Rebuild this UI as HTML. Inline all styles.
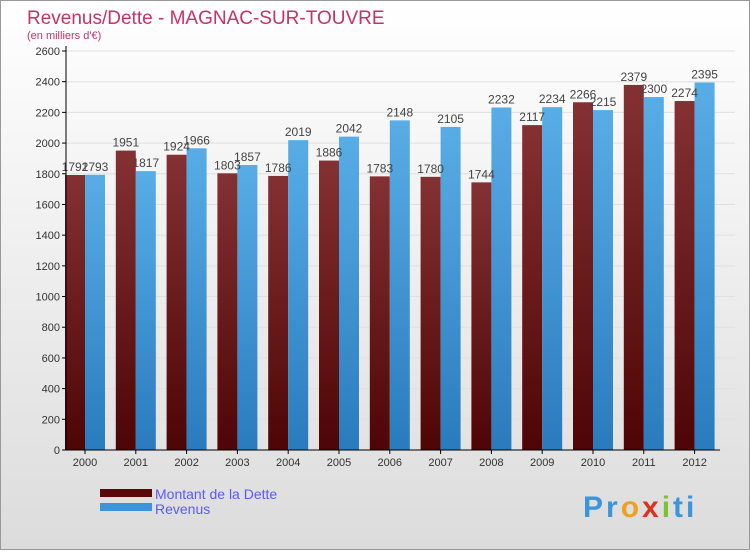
<!DOCTYPE html>
<html><head><meta charset="utf-8"><style>
body{margin:0;width:750px;height:550px;overflow:hidden;font-family:"Liberation Sans",sans-serif}
</style></head><body>
<svg id="c" width="750" height="550" xmlns="http://www.w3.org/2000/svg">
<defs>
<linearGradient id="bg" x1="0" y1="0" x2="0" y2="1"><stop offset="0" stop-color="#ffffff"/><stop offset="1" stop-color="#dcdcdc"/></linearGradient>
<linearGradient id="gd" x1="0" y1="0" x2="0" y2="1"><stop offset="0" stop-color="#843133"/><stop offset="1" stop-color="#4e0505"/></linearGradient>
<linearGradient id="gr" x1="0" y1="0" x2="0" y2="1"><stop offset="0" stop-color="#58ade6"/><stop offset="1" stop-color="#2a7bbd"/></linearGradient>
</defs>
<rect x="0.5" y="0.5" width="749" height="549" fill="url(#bg)" stroke="#999"/>
<text x="27" y="24" font-size="19" fill="#c83264">Revenus/Dette - MAGNAC-SUR-TOUVRE</text>
<text x="27" y="39" font-size="11" fill="#c83264">(en milliers d'€)</text>
<g id="grid"></g><g id="bars"></g><g id="axes"></g>
<rect x="100" y="489" width="52" height="8" fill="#5a0a0a"/>
<text x="155" y="499" font-size="14" fill="#5a5aff">Montant de la Dette</text>
<rect x="100" y="503" width="52" height="8" fill="#3a95dc"/>
<text x="155" y="514" font-size="14" fill="#5a5aff">Revenus</text>
<text x="583" y="517" font-size="30" font-weight="bold" letter-spacing="3" fill="#3a95dc">Pr<tspan fill="#f0a020">o</tspan><tspan fill="#e03020">x</tspan><tspan fill="#80c030">i</tspan>t<tspan fill="#3a95dc">i</tspan></text>
</svg>
<script>
const years=["2000","2001","2002","2003","2004","2005","2006","2007","2008","2009","2010","2011","2012"];
const dette=[1792,1951,1924,1803,1786,1886,1783,1780,1744,2117,2266,2379,2274];
const revenus=[1793,1817,1966,1857,2019,2042,2148,2105,2232,2234,2215,2300,2395];
const yTicks=[0,200,400,600,800,1000,1200,1400,1600,1800,2000,2200,2400,2600];
const NS="http://www.w3.org/2000/svg";
const y0=450,yTop=51,yMax=2600,x0=66,bandW=50.8,bw=20;
function y(v){return y0-(v/yMax)*(y0-yTop);}
function xc(i){return 85+i*bandW;}
function mk(tag,attrs,parent,txt){const e=document.createElementNS(NS,tag);for(const k in attrs)e.setAttribute(k,attrs[k]);if(txt!==undefined)e.textContent=txt;document.getElementById(parent).appendChild(e);return e;}
yTicks.forEach(t=>{
 const g=mk('line',{x1:x0,x2:735,y1:y(t),y2:y(t),stroke:'#e0e0e0'},'grid');
 
 
 const tk=mk('line',{x1:x0-4,x2:x0,y1:y(t),y2:y(t),stroke:'#000'},'axes');
 
 
 const l=mk('text',{x:x0-6,y:y(t)+4,'font-size':11,'text-anchor':'end',fill:'#333'},'axes',t);
 
 
});
years.forEach((yr,i)=>{
 const c=xc(i);
 const b1=mk('rect',{x:c-bw,y:y(dette[i]),width:bw,height:y0-y(dette[i]),fill:'url(#gd)'},'bars');
 
 
 const b2=mk('rect',{x:c,y:y(revenus[i]),width:bw,height:y0-y(revenus[i]),fill:'url(#gr)'},'bars');
 
 
 const v1=mk('text',{x:c-bw/2,y:y(dette[i])-4,'font-size':12,'text-anchor':'middle',fill:'#444'},'bars',dette[i]);
 
 
 const v2=mk('text',{x:c+bw/2,y:y(revenus[i])-4,'font-size':12,'text-anchor':'middle',fill:'#444'},'bars',revenus[i]);
 
 
 const xt=mk('line',{x1:c,x2:c,y1:y0,y2:y0+4,stroke:'#000'},'axes');
 
 
 const xl=mk('text',{x:c,y:y0+16,'font-size':11,'text-anchor':'middle',fill:'#333'},'axes',yr);
 
 
});
const ya=mk('line',{x1:x0,x2:x0,y1:yTop-5,y2:y0,stroke:'#000'},'axes');


const xa=mk('line',{x1:x0,x2:720,y1:y0,y2:y0,stroke:'#000'},'axes');


</script>
</body></html>
